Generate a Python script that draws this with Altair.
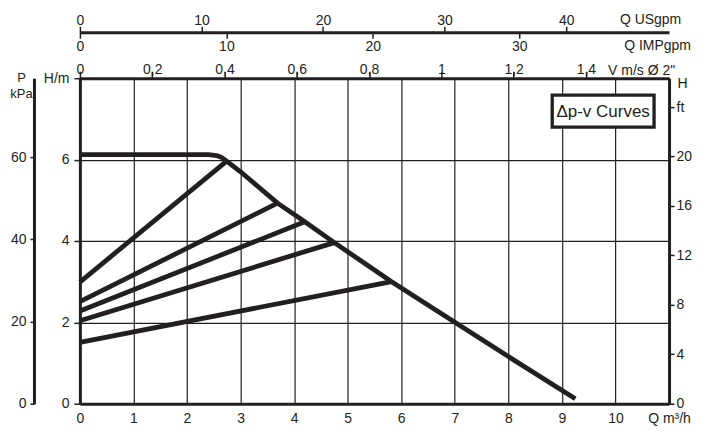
import altair as alt
import pandas as pd

INK = "#231f20"
FONT = "Liberation Sans"

# Maximum curve (Q m3/h, H m)
max_q = [0, 2.4, 2.55, 2.65, 2.74, 3.0, 3.69, 4.2, 4.75, 5.82, 7.0, 8.0, 9.25]
max_h = [6.12, 6.12, 6.10, 6.05, 5.96, 5.70, 4.93, 4.47, 3.96, 3.0, 2.0, 1.16, 0.12]

# Δp-v setting lines: start head at Q=0, end point on max curve
start_h = [2.99, 2.51, 2.28, 2.04, 1.51]
end_q = [2.74, 3.69, 4.2, 4.75, 5.82]
end_h = [5.96, 4.93, 4.47, 3.96, 3.0]

# Axis tick values
q_ticks = list(range(0, 12))
h_ticks = [0, 2, 4, 6, 8]
p_ticks = [0, 20, 40, 60]
ft_ticks = [0, 4, 8, 12, 16, 20, 24]
v_ticks = [0, 0.2, 0.4, 0.6, 0.8, 1.0, 1.2, 1.4]
us_ticks = [0, 10, 20, 30, 40]
imp_ticks = [0, 10, 20, 30]

# Scale extents (matching plot frame Q 0..11, H 0..8)
Q_MAX = 11
H_MAX = 8
V_MAX = 1.63
US_MAX = 48.46
IMP_MAX = 40.22
P_MAX = 79.2
FT_MAX = 26.34

rows = []
for i, (q, h) in enumerate(zip(max_q, max_h)):
    rows.append({"series": "max", "order": i, "Q": q, "H": h})
for k in range(len(start_h)):
    rows.append({"series": f"r{k}", "order": 0, "Q": 0, "H": start_h[k]})
    rows.append({"series": f"r{k}", "order": 1, "Q": end_q[k], "H": end_h[k]})
curves = pd.DataFrame(rows)

common_axis = dict(domainColor=INK, domainWidth=3, tickColor=INK, tickWidth=1.5,
                   labelFont=FONT, labelFontSize=14, labelColor=INK,
                   titleFont=FONT, titleFontSize=14, titleColor=INK,
                   titleFontWeight="normal", labelOverlap=False, labelFlush=False)

main = alt.Chart(curves).mark_line(color=INK, strokeWidth=4.8, strokeJoin="round").encode(
    x=alt.X("Q:Q", scale=alt.Scale(domain=[0, Q_MAX], nice=False, zero=False),
            axis=alt.Axis(orient="bottom", values=q_ticks, format="d", grid=True,
                          gridColor=INK, gridWidth=1.2, gridOpacity=1, tickSize=0,
                          labelPadding=8, title=None,
                          labelExpr="datum.value == 11 ? 'Q m³/h' : datum.label",
                          **common_axis)),
    y=alt.Y("H:Q", scale=alt.Scale(domain=[0, H_MAX], nice=False, zero=False),
            axis=alt.Axis(orient="left", values=h_ticks, format="d", grid=True,
                          gridColor=INK, gridWidth=1.2, gridOpacity=1, tickSize=6,
                          labelPadding=5, title=None,
                          labelExpr="datum.value == 8 ? 'H/m' : datum.label",
                          **common_axis)),
    detail="series:N",
    order="order:Q",
)

v_df = pd.DataFrame({"V": [0, V_MAX], "H": [0, H_MAX]})
v_layer = alt.Chart(v_df).mark_point(opacity=0).encode(
    x=alt.X("V:Q", scale=alt.Scale(domain=[0, V_MAX], nice=False, zero=False),
            axis=alt.Axis(orient="top", values=v_ticks, tickSize=7, labelPadding=-5,
                          labelExpr="replace(format(datum.value, '~g'), '.', ',')",
                          title='V m/s Ø 2"', titleX=562, titleY=-8, titleAlign="center",
                          titleBaseline="middle", titleAngle=0, **common_axis)),
    y=alt.Y("H:Q", scale=alt.Scale(domain=[0, H_MAX], nice=False), axis=None),
)

us_df = pd.DataFrame({"U": [0, US_MAX], "H": [0, H_MAX]})
us_layer = alt.Chart(us_df).mark_point(opacity=0).encode(
    x=alt.X("U:Q", scale=alt.Scale(domain=[0, US_MAX], nice=False, zero=False),
            axis=alt.Axis(orient="top", offset=46, values=us_ticks, format="d",
                          tickSize=6, labelPadding=-1,
                          title="Q USgpm", titleX=571, titleY=-13, titleAlign="center",
                          titleBaseline="middle", titleAngle=0, **common_axis)),
    y=alt.Y("H:Q", scale=alt.Scale(domain=[0, H_MAX], nice=False), axis=None),
)

imp_df = pd.DataFrame({"I": [0, IMP_MAX], "H": [0, H_MAX]})
imp_layer = alt.Chart(imp_df).mark_point(opacity=0).encode(
    x=alt.X("I:Q", scale=alt.Scale(domain=[0, IMP_MAX], nice=False, zero=False),
            axis=alt.Axis(orient="bottom", offset=-372, values=imp_ticks, format="d",
                          tickSize=6, labelPadding=1, domain=False,
                          title="Q IMPgpm", titleX=578, titleY=13, titleAlign="center",
                          titleBaseline="middle", titleAngle=0, **common_axis)),
    y=alt.Y("H:Q", scale=alt.Scale(domain=[0, H_MAX], nice=False), axis=None),
)

p_axis = dict(common_axis)
p_axis["titleFontSize"] = 13
p_df = pd.DataFrame({"Q": [0, Q_MAX], "P": [0, P_MAX]})
p_layer = alt.Chart(p_df).mark_point(opacity=0).encode(
    x=alt.X("Q:Q", scale=alt.Scale(domain=[0, Q_MAX], nice=False), axis=None),
    y=alt.Y("P:Q", scale=alt.Scale(domain=[0, P_MAX], nice=False, zero=False),
            axis=alt.Axis(orient="left", offset=46, values=p_ticks, format="d",
                          tickSize=4, labelPadding=4,
                          title=["P", "kPa"], titleX=-13, titleY=-7, titleAlign="center",
                          titleBaseline="top", titleAngle=0, titleLineHeight=16,
                          **p_axis)),
)

ft_df = pd.DataFrame({"Q": [0, Q_MAX], "F": [0, FT_MAX]})
ft_layer = alt.Chart(ft_df).mark_point(opacity=0).encode(
    x=alt.X("Q:Q", scale=alt.Scale(domain=[0, Q_MAX], nice=False), axis=None),
    y=alt.Y("F:Q", scale=alt.Scale(domain=[0, FT_MAX], nice=False, zero=False),
            axis=alt.Axis(orient="right", values=ft_ticks, format="d",
                          tickSize=5, labelPadding=2,
                          labelExpr="datum.value == 24 ? 'ft' : datum.label",
                          title="H", titleX=13, titleY=5, titleAlign="center",
                          titleBaseline="middle", titleAngle=0, **common_axis)),
)

box_df = pd.DataFrame({"label": ["Δp-v Curves"]})
box = alt.Chart(box_df).mark_rect(fill="white", stroke=INK, strokeWidth=3.3).encode(
    x=alt.value(473), x2=alt.value(575), y=alt.value(17), y2=alt.value(49)
)
box_text = alt.Chart(box_df).mark_text(font=FONT, fontSize=17, color=INK,
                                       align="center", baseline="middle").encode(
    text="label:N", x=alt.value(524), y=alt.value(34)
)

chart = alt.layer(
    main, v_layer, us_layer, imp_layer, p_layer, ft_layer, box, box_text
).resolve_scale(
    x="independent", y="independent"
).properties(
    width=590, height=326,
    autosize=alt.AutoSizeParams(type="none"),
    padding={"left": 72, "top": 70, "right": 30, "bottom": 25},
).configure_view(stroke=None)

chart.save("out.html", embed_options={"renderer": "svg", "actions": False})
